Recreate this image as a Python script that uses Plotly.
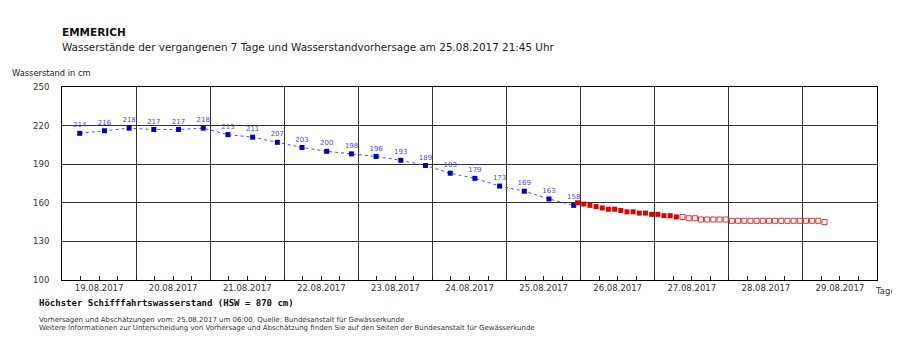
import pandas as pd
import plotly.graph_objects as go

# ---------------- data ----------------
obs_start = "2017-08-19 05:45"
obs_values = [214, 216, 218, 217, 217, 218, 213, 211, 207, 203, 200,
              198, 196, 193, 189, 183, 179, 173, 169, 163, 158]

fc_start = "2017-08-25 23:00"
fc_forecast = [160, 159, 158, 157, 156, 155, 155, 154, 153, 153, 152,
               152, 151, 151, 150, 150, 149]
fc_estimate = [149, 148, 148, 147, 147, 147, 147, 147, 146, 146, 146,
               146, 146, 146, 146, 146, 146, 146, 146, 146, 146, 146,
               146, 145]

day_labels = ["19.08.2017", "20.08.2017", "21.08.2017", "22.08.2017",
              "23.08.2017", "24.08.2017", "25.08.2017", "26.08.2017",
              "27.08.2017", "28.08.2017", "29.08.2017"]
y_ticks = [100, 130, 160, 190, 220, 250]

# ---------------- derived positions ----------------
obs_time = pd.date_range(obs_start, periods=len(obs_values), freq="8h")
fc_all = pd.date_range(fc_start, periods=len(fc_forecast) + len(fc_estimate), freq="2h")
fc_time1 = fc_all[:len(fc_forecast)]
fc_time2 = fc_all[len(fc_forecast):]

days = pd.to_datetime(day_labels, format="%d.%m.%Y")
noon = days + pd.Timedelta(hours=12)
x0 = days[0]
x1 = days[-1] + pd.Timedelta(days=1)

FONT = "DejaVu Sans"
OFF = 8  # page body margin
W, H = 900 - OFF, 356 - 2 * OFF
L, T = 62 - OFF, 87 - OFF
PR, PB = 877 - OFF, 280 - OFF   # plot right / bottom in figure px
R, B = W - PR, H - PB
PW, PH = PR - L, PB - T


def px(x):
    return (x - OFF - L) / PW


def py(y):
    return (PB - (y - OFF)) / PH


fig = go.Figure()

fig.add_trace(go.Scatter(
    x=obs_time, y=obs_values, mode="lines+markers+text",
    line=dict(color="#5050dc", width=1, dash="dot"),
    marker=dict(symbol="square", size=5, color="#0000c0"),
    text=[str(v) for v in obs_values], textposition="top center",
    textfont=dict(family=FONT, size=7, color="#4a4ae0"),
    cliponaxis=False, showlegend=False, hoverinfo="x+y"))

fig.add_trace(go.Scatter(
    x=fc_time1, y=fc_forecast, mode="markers",
    marker=dict(symbol="square", size=5, color="#e00000"),
    showlegend=False))

fig.add_trace(go.Scatter(
    x=fc_time2, y=fc_estimate, mode="markers",
    marker=dict(symbol="square-open", size=5, color="#e03030",
                line=dict(width=1)),
    showlegend=False))

# invisible traces on overlay axes: midnight grid lines and 6-hour ticks
fig.add_trace(go.Scatter(x=[x0, x1], y=[100, 100], xaxis="x2", mode="none",
                         showlegend=False, hoverinfo="skip"))
fig.add_trace(go.Scatter(x=[x0, x1], y=[100, 100], xaxis="x3", mode="none",
                         showlegend=False, hoverinfo="skip"))

fig.update_layout(
    width=W, height=H,
    margin=dict(l=L, r=R, t=T, b=B, pad=0),
    paper_bgcolor="white", plot_bgcolor="white",
    font=dict(family=FONT, size=9, color="#222"),
    xaxis=dict(
        range=[x0, x1], tickmode="array", tickvals=noon, ticktext=day_labels,
        ticks="", showgrid=False, zeroline=False,
        showline=True, linecolor="#000", linewidth=1, mirror=True,
        tickfont=dict(family=FONT, size=8.5, color="#333"),
    ),
    xaxis2=dict(
        range=[x0, x1], overlaying="x", side="bottom", tickmode="array",
        tickvals=days, showticklabels=False, ticks="",
        showgrid=True, gridcolor="#333", gridwidth=1, zeroline=False,
        layer="below traces",
    ),
    xaxis3=dict(
        range=[x0, x1], overlaying="x", side="bottom", tickmode="linear",
        tick0=x0, dtick=6 * 3600 * 1000, showticklabels=False,
        ticks="inside", ticklen=4, tickcolor="#222", tickwidth=1,
        showgrid=False, zeroline=False,
    ),
    yaxis=dict(
        range=[100, 250], tickmode="array", tickvals=y_ticks,
        showgrid=True, gridcolor="#333", gridwidth=1, zeroline=False,
        ticks="", ticklabelstandoff=10,
        showline=True, linecolor="#000", linewidth=1, mirror=True,
        tickfont=dict(family=FONT, size=8.5, color="#333"),
    ),
)

ann = [
    dict(text="<b>EMMERICH</b>", x=px(60), y=py(32), xanchor="left",
         font=dict(family=FONT, size=10.5, color="#111")),
    dict(text="Wasserstände der vergangenen 7 Tage und Wasserstandvorhersage am 25.08.2017 21:45 Uhr",
         x=px(60), y=py(47), xanchor="left",
         font=dict(family=FONT, size=10.4, color="#222")),
    dict(text="Wasserstand in cm", x=px(10), y=py(73), xanchor="left",
         font=dict(family=FONT, size=8.3, color="#222")),
    dict(text="Tage", x=px(898), y=py(291), xanchor="right",
         font=dict(family=FONT, size=8.5, color="#333")),
    dict(text="<b>Höchster Schifffahrtswasserstand (HSW = 870 cm)</b>",
         x=px(37), y=py(303), xanchor="left",
         font=dict(family="DejaVu Sans Mono", size=9, color="#111")),
    dict(text="Vorhersagen und Abschätzungen vom: 25.08.2017 um 06:00, Quelle: Bundesanstalt für Gewässerkunde",
         x=px(37), y=py(320), xanchor="left",
         font=dict(family=FONT, size=7, color="#333")),
    dict(text="Weitere Informationen zur Unterscheidung von Vorhersage und Abschätzung finden Sie auf den Seiten der Bundesanstalt für Gewässerkunde",
         x=px(37), y=py(327.5), xanchor="left",
         font=dict(family=FONT, size=7, color="#333")),
]
for a in ann:
    fig.add_annotation(xref="paper", yref="paper", yanchor="middle",
                       showarrow=False, **a)

fig.write_html("out.html")
